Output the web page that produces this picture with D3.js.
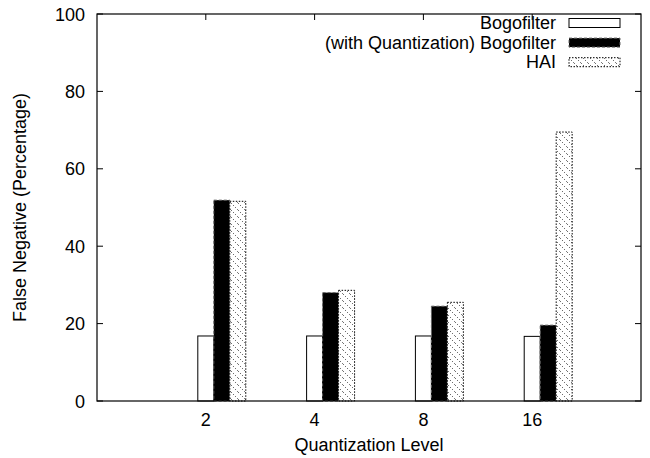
<!DOCTYPE html>
<html>
<head>
<meta charset="utf-8">
<script src="https://cdn.jsdelivr.net/npm/d3@7"></script>
<style>
  body { margin: 0; background: #fff; }
  text { font-family: "Liberation Sans", Arial, Helvetica, sans-serif; font-size: 18px; fill: #000; }
</style>
</head>
<body>
<div id="chart"></div>
<script>
const levels = ["2", "4", "8", "16"];
const seriesNames = ["Bogofilter", "(with Quantization) Bogofilter", "HAI"];
const bogofilter = [16.8, 16.8, 16.8, 16.7];
const bogofilterQuant = [51.9, 28.0, 24.5, 19.6];
const hai = [51.6, 28.6, 25.5, 69.5];
const yTicks = [0, 20, 40, 60, 80, 100];

const width = 650, height = 458;
const margin = { left: 97, right: 9, top: 14, bottom: 57 };

const svg = d3.select("#chart")
    .append("svg")
    .attr("width", width)
    .attr("height", height);

const defs = svg.append("defs");
const pat = defs.append("pattern")
    .attr("id", "hatch")
    .attr("patternUnits", "userSpaceOnUse")
    .attr("width", 7)
    .attr("height", 7);
pat.append("rect").attr("width", 7).attr("height", 7).attr("fill", "#fff");
pat.append("line")
    .attr("x1", 0).attr("y1", 0).attr("x2", 7).attr("y2", 7)
    .attr("stroke", "#333").attr("stroke-width", 1)
    .attr("stroke-dasharray", "1,2");

// index scale: category i sits at i, frame spans -1..4
const x = d3.scaleLinear().domain([-1, 4]).range([margin.left, width - margin.right]);
const y = d3.scaleLinear().domain([0, 100]).range([height - margin.bottom, margin.top]);

const barW = 0.147;
const styles = [
    { fill: "#fff", stroke: "#000", dash: null },
    { fill: "#000", stroke: "#666", dash: "3,2" },
    { fill: "url(#hatch)", stroke: "#000", dash: "1.5,1.5" }
];
const series = [bogofilter, bogofilterQuant, hai];

// ticks (inward, mirrored)
const tickLen = 6;
const g = svg.append("g");
yTicks.forEach(t => {
    g.append("line").attr("x1", x(-1)).attr("x2", x(-1) + tickLen)
        .attr("y1", y(t)).attr("y2", y(t)).attr("stroke", "#000");
    g.append("line").attr("x1", x(4)).attr("x2", x(4) - tickLen)
        .attr("y1", y(t)).attr("y2", y(t)).attr("stroke", "#000");
    g.append("text").attr("x", x(-1) - 12).attr("y", y(t) + 6.5)
        .attr("text-anchor", "end").text(t);
});
levels.forEach((lv, i) => {
    g.append("line").attr("x1", x(i)).attr("x2", x(i))
        .attr("y1", y(100)).attr("y2", y(100) + tickLen).attr("stroke", "#000");
    g.append("line").attr("x1", x(i)).attr("x2", x(i))
        .attr("y1", y(0)).attr("y2", y(0) - tickLen).attr("stroke", "#000");
    g.append("text").attr("x", x(i)).attr("y", y(0) + 25)
        .attr("text-anchor", "middle").text(lv);
});

// bars
series.forEach((vals, s) => {
    svg.selectAll(".bar" + s)
        .data(vals)
        .enter()
        .append("rect")
        .attr("x", (d, i) => x(i + (s - 0.5) * barW))
        .attr("y", d => y(d))
        .attr("width", x(barW) - x(0))
        .attr("height", d => y(0) - y(d))
        .attr("fill", styles[s].fill)
        .attr("stroke", styles[s].stroke)
        .attr("stroke-width", 1)
        .attr("stroke-dasharray", styles[s].dash);
});

// frame
svg.append("rect")
    .attr("x", x(-1)).attr("y", y(100))
    .attr("width", x(4) - x(-1)).attr("height", y(0) - y(100))
    .attr("fill", "none").attr("stroke", "#000").attr("stroke-width", 1.2);

// legend
const legend = svg.append("g");
seriesNames.forEach((name, s) => {
    const cy = 23 + s * 19.6;
    legend.append("text").attr("x", 556).attr("y", cy + 6)
        .attr("text-anchor", "end").text(name);
    legend.append("rect").attr("x", 569).attr("y", cy - 4.5)
        .attr("width", 51).attr("height", 9)
        .attr("fill", styles[s].fill)
        .attr("stroke", styles[s].stroke)
        .attr("stroke-dasharray", styles[s].dash);
});

// axis titles
svg.append("text")
    .attr("x", (x(-1) + x(4)) / 2).attr("y", 451)
    .attr("text-anchor", "middle").text("Quantization Level");
svg.append("text")
    .attr("transform", `translate(26,${(y(0) + y(100)) / 2}) rotate(-90)`)
    .attr("text-anchor", "middle").text("False Negative (Percentage)");
</script>
</body>
</html>
